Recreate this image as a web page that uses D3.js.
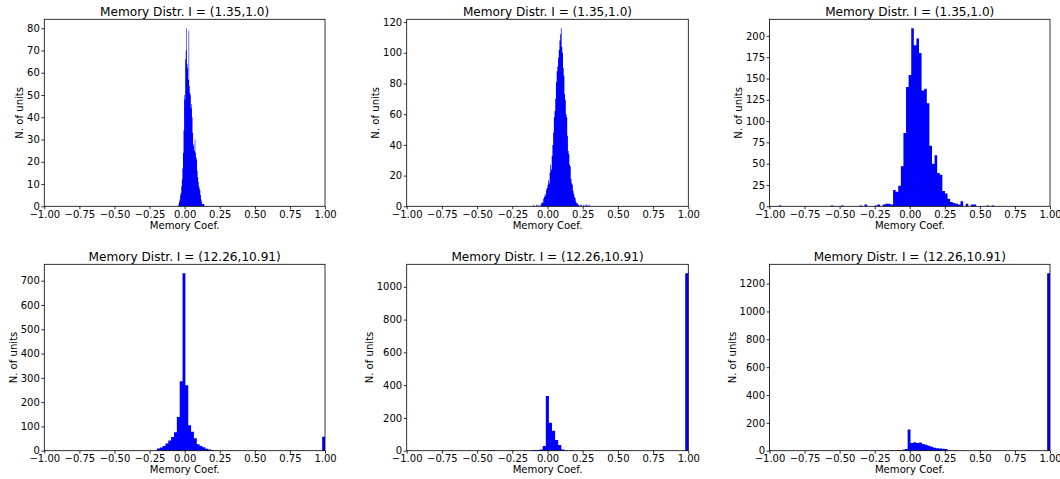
<!DOCTYPE html>
<html>
<head>
<meta charset="utf-8">
<script src="https://cdn.jsdelivr.net/npm/d3@7"></script>
<style>
  body { margin: 0; background: #fff; }
  svg { display: block; font-family: "DejaVu Sans", sans-serif; }
</style>
</head>
<body>
<svg id="fig" width="1060" height="479"></svg>
<script>
// ---- data: histogram bins (left edge of first bin, bin width, counts) ----
const titleTop = "Memory Distr. I = (1.35,1.0)";
const titleBottom = "Memory Distr. I = (12.26,10.91)";
const xLabel = "Memory Coef.";
const yLabel = "N. of units";
const xTicks = [-1, -0.75, -0.5, -0.25, 0, 0.25, 0.5, 0.75, 1];

const p1Start = -0.044, p1Width = 0.004;
const p1Counts = [1, 2, 3, 5, 6, 9, 12, 17, 24, 34, 50, 48, 66, 70, 80, 64, 62, 57, 79, 54,
  51, 50, 44, 46, 40, 33, 28, 27, 25, 30, 24, 22, 21, 16, 13, 11, 9, 8, 7, 5, 3, 2, 1, 1, 1, 1];
const p1YTicks = [0, 10, 20, 30, 40, 50, 60, 70, 80];

const p2Start = -0.1, p2Width = 0.005;
const p2Counts = [1, 0, 0, 0, 1, 0, 1, 0, 0, 1, 0, 2, 3, 2, 5, 6, 8, 7, 11, 12,
  14, 17, 15, 22, 27, 24, 33, 40, 48, 58, 62, 70, 81, 88, 91, 97, 102, 108, 112, 116,
  104, 100, 90, 85, 73, 69, 60, 58, 46, 36, 34, 27, 26, 18, 15, 14, 10, 8, 6, 5,
  3, 2, 2, 1, 1, 0, 1, 0, 1, 0, 0, 1, 0, 1, 0, 1, 0, 1, 0, 1];
const p2YTicks = [0, 20, 40, 60, 80, 100, 120];

const p3Start = -0.933, p3Width = 0.0185;
const p3Counts = [1, 0, 0, 0, 0, 0, 0, 0, 0, 0,
  0, 0, 0, 0, 0, 0, 0, 0, 0, 0,
  1, 0, 0, 0, 1, 0, 0, 0, 0, 0,
  0, 1, 0, 2, 0, 0, 0, 1, 2, 0,
  2, 3, 3, 2, 19, 17, 24, 47, 86, 140,
  154, 209, 189, 197, 180, 136, 138, 121, 71, 50,
  60, 39, 37, 18, 15, 9, 5, 4, 3, 2,
  6, 0, 3, 0, 2, 2, 0, 0, 0, 0,
  1, 0, 1];
const p3YTicks = [0, 25, 50, 75, 100, 125, 150, 175, 200];

const p4Start = -0.421, p4Width = 0.0203;
const p4Counts = [0, 0, 1, 0, 0, 0, 0, 0, 0, 0,
  1, 9, 13, 19, 30, 42, 56, 76, 139, 286,
  731, 269, 105, 78, 51, 27, 19, 14, 8, 5,
  3, 1, 0, 0, 0, 0, 0, 0, 0, 0,
  0, 0, 0, 0, 0, 0, 0, 0, 0, 0,
  0, 0, 0, 0, 0, 0, 0, 0, 0, 0,
  0, 0, 0, 0, 0, 0, 0, 0, 0, 57];
const p4YTicks = [0, 100, 200, 300, 400, 500, 600, 700];

const p5Start = -0.694, p5Width = 0.022;
const p5Counts = [1, 0, 0, 0, 0, 0, 0, 0, 0, 0,
  0, 0, 1, 2, 1, 0, 0, 0, 0, 1,
  1, 0, 0, 0, 2, 0, 3, 4, 5, 8,
  29, 333, 171, 122, 65, 35, 8, 3, 1, 2,
  0, 0, 1, 0, 0, 0, 0, 0, 0, 0,
  0, 0, 1, 1, 0, 1, 2, 1, 0, 0,
  0, 0, 0, 0, 0, 0, 0, 0, 0, 0,
  0, 0, 0, 0, 0, 0, 1083];
const p5YTicks = [0, 200, 400, 600, 800, 1000];

const p6Start = -0.4007, p6Width = 0.0203;
const p6Counts = [0, 0, 0, 1, 1, 0, 1, 0, 2, 0,
  1, 0, 1, 2, 2, 3, 4, 6, 12, 153,
  55, 60, 55, 58, 48, 42, 35, 28, 22, 18,
  15, 14, 12, 4, 2, 2, 1, 0, 1, 0,
  0, 0, 0, 0, 1, 0, 0, 0, 0, 0,
  0, 0, 0, 0, 0, 0, 0, 0, 0, 0,
  0, 0, 0, 0, 0, 0, 0, 0, 1275];
const p6YTicks = [0, 200, 400, 600, 800, 1000, 1200];

const panels = [
  { title: titleTop, start: p1Start, width: p1Width, counts: p1Counts, yTicks: p1YTicks },
  { title: titleTop, start: p2Start, width: p2Width, counts: p2Counts, yTicks: p2YTicks },
  { title: titleTop, start: p3Start, width: p3Width, counts: p3Counts, yTicks: p3YTicks },
  { title: titleBottom, start: p4Start, width: p4Width, counts: p4Counts, yTicks: p4YTicks },
  { title: titleBottom, start: p5Start, width: p5Width, counts: p5Counts, yTicks: p5YTicks },
  { title: titleBottom, start: p6Start, width: p6Width, counts: p6Counts, yTicks: p6YTicks }
];

// ---- layout of the 2x3 grid ----
const colBounds = [[44.3, 325], [406.7, 688.3], [769.5, 1050]];
const rowBounds = [[19.3, 206.3], [264.3, 450.7]];
const tickFont = 10, labelFont = 10.1, titleFont = 12.1;
const tickLen = 3, tickPad = 1.5;
const barColor = "#0000ff";

const svg = d3.select("#fig");

panels.forEach((p, i) => {
  const [x0, x1] = colBounds[i % 3];
  const [y0, y1] = rowBounds[Math.floor(i / 3)];

  const x = d3.scaleLinear().domain([-1, 1]).range([x0, x1]);
  const yMax = d3.max(p.counts) * 1.05;
  const y = d3.scaleLinear().domain([0, yMax]).range([y1, y0]);

  const g = svg.append("g");

  const bins = p.counts.map((c, k) => ({ lo: p.start + k * p.width, hi: p.start + (k + 1) * p.width, n: c }))
    .filter(b => b.n > 0);

  // all bars of a panel in one path so neighbouring bars join without seams
  const path = d3.path();
  bins.forEach(b => {
    path.rect(x(b.lo), y(b.n), x(b.hi) - x(b.lo), y(0) - y(b.n));
  });
  g.append("path").attr("d", path.toString()).attr("fill", barColor);

  // axes
  const xAxis = d3.axisBottom(x).tickValues(xTicks).tickFormat(d3.format(".2f"))
    .tickSizeInner(tickLen).tickSizeOuter(0).tickPadding(tickPad);
  const yAxis = d3.axisLeft(y).tickValues(p.yTicks).tickFormat(d3.format("d"))
    .tickSizeInner(tickLen).tickSizeOuter(0).tickPadding(tickPad);

  const gx = g.append("g").attr("transform", `translate(0,${y1})`).call(xAxis);
  const gy = g.append("g").attr("transform", `translate(${x0},0)`).call(yAxis);
  [gx, gy].forEach(a => {
    a.select(".domain").remove();
    a.selectAll("text").attr("font-size", tickFont).attr("fill", "#000")
      .attr("font-family", "DejaVu Sans, sans-serif");
    a.selectAll("line").attr("stroke", "#000").attr("stroke-width", 0.8);
  });

  // frame
  g.append("rect")
    .attr("x", x0).attr("y", y0).attr("width", x1 - x0).attr("height", y1 - y0)
    .attr("fill", "none").attr("stroke", "#000").attr("stroke-width", 0.8);

  // title
  g.append("text")
    .attr("x", (x0 + x1) / 2).attr("y", y0 - 3.5)
    .attr("text-anchor", "middle").attr("font-size", titleFont).attr("fill", "#000")
    .text(p.title);

  // x label
  g.append("text")
    .attr("x", (x0 + x1) / 2).attr("y", y1 + 22.5)
    .attr("text-anchor", "middle").attr("font-size", labelFont).attr("fill", "#000")
    .text(xLabel);

  // y label placed clear of the widest tick label
  let maxW = 0;
  gy.selectAll("text").each(function () { maxW = Math.max(maxW, this.getBBox().width); });
  const lx = x0 - (maxW + tickLen + tickPad + 4 + 3.5);
  g.append("text")
    .attr("transform", `translate(${lx},${(y0 + y1) / 2}) rotate(-90)`)
    .attr("text-anchor", "middle").attr("dominant-baseline", "central")
    .attr("font-size", labelFont).attr("fill", "#000")
    .text(yLabel);
});
</script>
</body>
</html>
